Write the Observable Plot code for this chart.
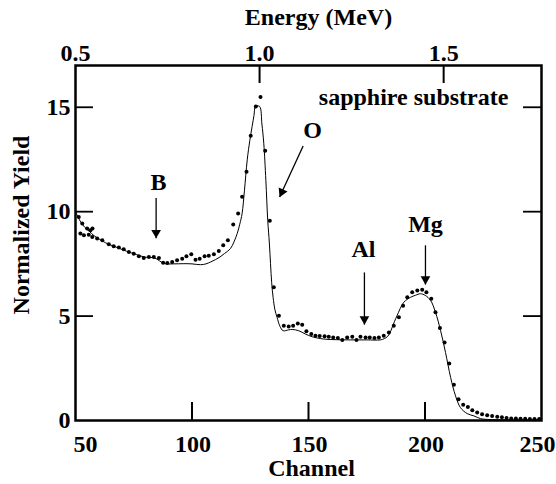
<!DOCTYPE html>
<html><head><meta charset="utf-8">
<script src="https://cdn.jsdelivr.net/npm/d3@7"></script>
<script src="https://cdn.jsdelivr.net/npm/@observablehq/plot@0.6"></script>
<style>body{margin:0;background:#fff}</style>
</head><body><div id="chart"></div>
<script>
// Measured RBS spectrum (dots)
const obsChannel = [51.4,52.1,52.9,53.6,55.0,55.7,56.4,57.2,57.3,59.3,61.5,64.3,66.4,68.6,70.7,72.9,75.0,77.2,79.3,81.5,83.6,85.8,87.6,89.4,91.5,93.6,95.8,97.6,99.7,101.5,103.3,105.4,107.2,109.4,111.5,113.4,115.4,117.7,119.8,121.5,123.4,125.2,127.4,129.4,131.4,133.4,135.1,137.3,139.4,141.5,143.4,145.4,147.3,149.1,151.2,153.0,154.8,156.9,158.7,160.6,162.6,164.5,166.6,168.8,170.6,172.3,174.5,176.3,178.3,180.2,182.3,184.5,186.6,188.8,190.6,192.4,194.5,196.7,198.8,200.6,202.7,204.5,206.4,208.4,210.4,212.4,214.4,216.4,218.4,220.3,222.4,224.5,226.7,228.8,231.0,233.0,235.0,237.0,239.0,241.0,243.0,245.0,247.0,249.0];
const obsYield = [9.75,8.95,9.43,8.87,9.19,8.9,9.11,8.79,9.2,8.71,8.63,8.44,8.34,8.28,8.2,8.07,7.99,7.86,7.78,7.83,7.83,7.78,7.56,7.54,7.59,7.67,7.75,7.86,7.96,7.7,7.75,7.86,7.89,7.96,8.12,8.39,8.63,9.38,9.91,10.71,11.91,13.63,15.04,15.49,12.92,9.56,6.38,5.02,4.54,4.5,4.54,4.65,4.58,4.27,4.14,4.06,4.05,4.03,4.01,3.98,3.95,3.86,3.98,4.01,3.86,4.01,3.98,3.98,3.95,3.98,4.06,4.22,4.54,4.94,5.5,5.9,6.14,6.23,6.26,6.14,5.83,5.18,4.43,3.74,2.73,1.71,1.02,0.75,0.65,0.49,0.38,0.3,0.25,0.22,0.18,0.15,0.12,0.1,0.1,0.08,0.08,0.07,0.07,0.07];

// Simulated spectrum (solid line)
const simChannel = [50,52,54,56,58,60,64,68,72,76,80,84,88,92,96.5,100,103.6,106,108,110,112,114,116.5,118,119.4,120.5,121.5,122.5,123.7,124.8,125.8,126.6,127.3,129,130,130.8,131.7,132.5,133.2,133.7,134.2,134.8,135.6,136.5,137.8,139.1,141.5,143,145.8,148.7,151.6,156.6,162,168,175,180.9,182.5,183.8,185,185.9,188,190.9,193.8,196,198,200.1,202.4,204.5,206.7,208.8,211,213.1,215.2,218.1,221,223.8,227,235,250];
const simYield = [10.0,9.55,9.25,9.05,8.85,8.7,8.45,8.28,8.1,7.95,7.82,7.78,7.52,7.5,7.51,7.5,7.46,7.5,7.59,7.7,7.83,8.0,8.23,8.55,8.95,9.4,9.91,11.0,12.48,13.4,14.08,14.6,15.04,15.04,14.2,13.28,11.5,9.59,8.5,7.51,6.6,5.9,5.3,4.94,4.5,4.3,4.34,4.36,4.3,4.14,4.01,3.9,3.87,3.86,3.86,3.86,3.92,4.01,4.2,4.46,5.02,5.66,5.9,6.0,6.07,5.99,5.75,5.18,4.3,3.26,2.06,1.18,0.62,0.33,0.22,0.09,0.05,0.03,0.03];

// Axes
const channelTicks = [50,100,150,200,250];
const yieldTicks = [0,5,10,15];
const energyTicks = [0.5,1.0,1.5];
const energyAtCh50 = 0.5, mevPerChannel = 0.5/79;
const chOfE = e => 50 + (e - energyAtCh50)/mevPerChannel;
const eOfCh = c => energyAtCh50 + (c - 50)*mevPerChannel;

// Annotations
const arrowLabel = ["B","O","Al","Mg"];
const arrowTailX = [84.6,147.7,174.0,200.2];
const arrowTailY = [10.65,13.15,7.09,8.39];
const arrowTipX  = [84.6,137.6,174.0,200.2];
const arrowTipY  = [8.73,10.7,4.59,6.51];
const labelX = [85.6,151.7,173.6,200.2];
const labelY = [11.03,13.53,7.81,9.01];
const noteText = ["sapphire substrate"];
const noteX = [195.1];
const noteY = [15.12];

const obs = obsChannel.map((c,i)=>({c, v: obsYield[i]}));
const sim = simChannel.map((c,i)=>({c, v: simYield[i]}));
const arrows = arrowLabel.map((l,i)=>({l, x1: arrowTailX[i], y1: arrowTailY[i], x2: arrowTipX[i], y2: arrowTipY[i], lx: labelX[i], ly: labelY[i]}));
const notes = noteText.map((t,i)=>({t, x: noteX[i], y: noteY[i]}));

const W = 556, H = 484, mL = 75, mR = 15, mT = 65, mB = 64;
const pw = W - mL - mR, ph = H - mT - mB, tick = 18;

const chart = Plot.plot({
  width: W, height: H,
  marginLeft: mL, marginRight: mR, marginTop: mT, marginBottom: mB,
  style: {fontFamily: "'Liberation Serif', 'Times New Roman', serif", fontWeight: "bold", fontSize: "24px", color: "black", background: "white"},
  x: {domain: [50, 250]},
  y: {domain: [0, 17]},
  marks: [
    Plot.ruleX(channelTicks.slice(1, -1), {insetTop: ph - tick, strokeWidth: 2}),
    Plot.ruleX(energyTicks.slice(1).map(chOfE), {insetBottom: ph - tick, strokeWidth: 2}),
    Plot.ruleY(yieldTicks.slice(1), {insetRight: pw - tick, strokeWidth: 1.8}),
    Plot.ruleY(yieldTicks.slice(1), {insetLeft: pw - tick, strokeWidth: 1.8}),
    Plot.axisX(channelTicks.slice(0, 1), {anchor: "bottom", tickSize: 0, tickPadding: 14, label: null, dx: 10}),
    Plot.axisX(channelTicks.slice(1, -1), {anchor: "bottom", tickSize: 0, tickPadding: 14, label: null, dx: 1}),
    Plot.axisX(channelTicks.slice(-1), {anchor: "bottom", tickSize: 0, tickPadding: 14, label: null, dx: -4}),
    Plot.axisX(energyTicks.map(chOfE), {anchor: "top", tickSize: 0, tickPadding: 5, label: null, tickFormat: d => eOfCh(d).toFixed(1)}),
    Plot.axisY(yieldTicks, {anchor: "left", tickSize: 0, tickPadding: 5, label: null}),
    Plot.text(["Channel"], {frameAnchor: "bottom", lineAnchor: "bottom", textAnchor: "middle", dx: 3, dy: 55}),
    Plot.text(["Energy (MeV)"], {frameAnchor: "top", lineAnchor: "bottom", textAnchor: "middle", dx: 10, dy: -41}),
    Plot.text(["Normalized Yield"], {frameAnchor: "left", lineAnchor: "bottom", textAnchor: "middle", rotate: -90, dx: -47, dy: -18}),
    Plot.line(sim, {x: "c", y: "v", stroke: "black", strokeWidth: 1, curve: "catmull-rom"}),
    Plot.dot(obs, {x: "c", y: "v", r: 2, fill: "black", stroke: null}),
    Plot.link(arrows, {x1: "x1", y1: "y1", x2: "x2", y2: "y2", stroke: "black", strokeWidth: 1.3}),
    Plot.dot(arrows.filter(d => d.l !== "O"), {x: "x2", y: "y2", symbol: "triangle", r: 3.6, rotate: 180, fill: "black", stroke: null, dy: -5.5}),
    Plot.dot(arrows.filter(d => d.l === "O"), {x: "x2", y: "y2", symbol: "triangle", r: 3.6, rotate: 205, fill: "black", stroke: null, dx: 2.3, dy: -5.0}),
    Plot.text(arrows, {x: "lx", y: "ly", text: "l", lineAnchor: "bottom", fill: "black"}),
    Plot.text(notes, {x: "x", y: "y", text: "t", lineAnchor: "bottom", fill: "black"}),
    Plot.frame({stroke: "black", strokeWidth: 2.5})
  ]
});
document.getElementById("chart").appendChild(chart);
</script></body></html>
